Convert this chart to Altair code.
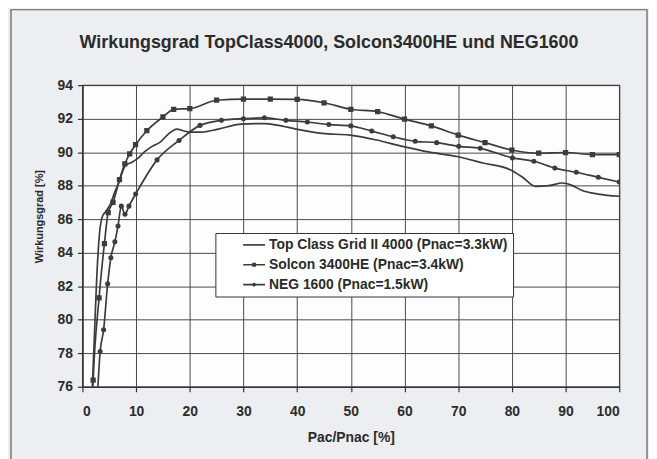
import altair as alt
import pandas as pd

FONT = "Liberation Sans"
TXT = "#2b2b2b"
LINE = "#3c3c3c"

S_TOP = "Top Class Grid II 4000 (Pnac=3.3kW)"
S_SOL = "Solcon 3400HE (Pnac=3.4kW)"
S_NEG = "NEG 1600 (Pnac=1.5kW)"
series_names = [S_TOP, S_SOL, S_NEG]

top_x = [1.85, 2.35, 2.6, 2.96, 3.3, 3.7, 4.3, 5.25, 6.0, 6.8, 8.0, 9.25, 10.2, 11.5, 12.9,
         14.5, 16.0, 17.6, 18.8, 20.0, 22.2, 25.3, 29.6, 33.9, 36.5, 39.8, 44.7, 49.8, 54.8,
         59.8, 64.7, 69.8, 74.8, 79.7, 82.0, 84.4, 86.9, 89.4, 91.2, 93.0, 96.1, 100.0]
top_y = [76.0, 80.0, 82.0, 84.2, 85.5, 86.15, 86.44, 86.94, 87.6, 88.2, 89.2, 89.4, 89.6, 90.0,
         90.33, 90.6, 91.08, 91.38, 91.28, 91.2, 91.2, 91.38, 91.67, 91.71, 91.6, 91.38, 91.12,
         91.02, 90.73, 90.33, 90.0, 89.74, 89.34, 88.95, 88.5, 87.96, 88.0, 88.16, 88.02, 87.73,
         87.5, 87.37]

sol_x = [1.9, 2.0, 3.1, 4.1, 4.8, 5.7, 6.9, 7.9, 8.8, 9.9, 12.0, 15.0, 17.0, 20.0, 25.0, 30.0,
         35.0, 40.0, 45.0, 50.0, 55.0, 60.0, 65.0, 70.0, 75.0, 80.0, 85.0, 90.0, 95.0, 100.0]
sol_y = [75.6, 76.4, 81.3, 84.55, 86.4, 87.0, 88.36, 89.3, 89.9, 90.45, 91.28, 92.1, 92.56,
         92.6, 93.1, 93.17, 93.17, 93.15, 92.95, 92.56, 92.42, 91.97, 91.57, 91.02, 90.57,
         90.13, 89.94, 89.98, 89.86, 89.86]

neg_x = [2.8, 3.3, 3.95, 4.7, 5.3, 6.05, 6.63, 7.25, 7.93, 8.67, 9.92, 13.9, 18.0, 21.9, 25.9,
         30.0, 33.9, 37.9, 41.9, 45.9, 50.0, 53.9, 57.9, 62.0, 66.0, 70.1, 74.1, 80.1, 84.1,
         88.0, 92.0, 96.1, 100.0]
neg_y = [75.5, 78.1, 79.4, 82.15, 83.7, 84.65, 85.6, 86.78, 86.3, 86.78, 87.5, 89.54, 90.7,
         91.6, 91.9, 92.0, 92.05, 91.9, 91.8, 91.65, 91.57, 91.26, 90.92, 90.65, 90.57, 90.35,
         90.23, 89.66, 89.46, 89.05, 88.8, 88.5, 88.22]

x_ticks = list(range(0, 101, 10))
y_ticks = list(range(76, 95, 2))

# legend symbols: a short line, with the series' marker on it
legend_shapes = [
    "M-2.2,0H2.2",
    "M-2.2,0H2.2M-0.22,-0.22H0.22V0.22H-0.22Z",
    "M-2.2,0H2.2M-0.2,0A0.2,0.2 0 1,1 0.2,0A0.2,0.2 0 1,1 -0.2,0Z",
]

lines_df = pd.concat([
    pd.DataFrame({"x": top_x, "y": top_y, "series": S_TOP}),
    pd.DataFrame({"x": sol_x, "y": sol_y, "series": S_SOL}),
    pd.DataFrame({"x": neg_x, "y": neg_y, "series": S_NEG}),
], ignore_index=True)
marks_df = lines_df[lines_df["series"] != S_TOP]

xs = alt.Scale(domain=[0, 100], nice=False, zero=False)
ys = alt.Scale(domain=[76, 94], nice=False, zero=False)

x_enc = alt.X("x:Q", scale=xs, title="Pac/Pnac [%]",
              axis=alt.Axis(values=x_ticks, tickSize=5, labelPadding=13, titlePadding=12,
                            labelFontSize=14, titleFontSize=14))
y_enc = alt.Y("y:Q", scale=ys, title="Wirkungsgrad [%]",
              axis=alt.Axis(values=y_ticks, tickSize=5, labelPadding=5, labelFontSize=14,
                            titleFontSize=11, titleX=-43, titleY=132, titleAlign="center",
                            titleBaseline="middle", titleAngle=270))

line_layer = alt.Chart(lines_df).mark_line(
    color=LINE, strokeWidth=1.7, interpolate="monotone", clip=True
).encode(x=x_enc, y=y_enc, detail="series:N")

point_layer = alt.Chart(marks_df).mark_point(
    filled=True, color=LINE, opacity=1, clip=True
).encode(
    x=x_enc, y=y_enc,
    shape=alt.Shape("series:N",
                    scale=alt.Scale(domain=[S_SOL, S_NEG], range=["square", "circle"]),
                    legend=None),
    size=alt.Size("series:N", scale=alt.Scale(domain=[S_SOL, S_NEG], range=[28, 26]),
                  legend=None),
)

legend_layer = alt.Chart(lines_df).mark_point(
    filled=False, color=LINE, strokeWidth=1.5, opacity=0, clip=True
).encode(
    x=x_enc, y=y_enc,
    shape=alt.Shape("series:N",
                    scale=alt.Scale(domain=series_names, range=legend_shapes),
                    legend=alt.Legend(
                        title=None, orient="none", legendX=134, legendY=149,
                        padding=5, symbolOffset=27, symbolSize=100,
                        labelFontSize=14, labelFontWeight="bold", labelFont=FONT,
                        labelColor=TXT, labelLimit=400, labelOffset=8, rowPadding=6,
                        fillColor="#ffffff", strokeColor="#333333",
                        symbolStrokeWidth=1.7, symbolFillColor=LINE,
                        symbolStrokeColor=LINE, symbolOpacity=1,
                    )),
)

frame_layer = alt.Chart(pd.DataFrame({"f": [0]})).mark_rect(
    fill=None, stroke="#5a5a5a", strokeWidth=1.2
).encode(x=alt.value(-72), x2=alt.value(569), y=alt.value(-76), y2=alt.value(420))

chart = alt.layer(frame_layer, line_layer, point_layer, legend_layer).resolve_scale(
    shape="independent", size="independent"
).properties(
    width=541, height=304,
    padding={"left": 75, "top": 76, "right": 30, "bottom": 71},
    autosize=alt.AutoSizeParams(type="none"),
    title=alt.TitleParams(
        "Wirkungsgrad TopClass4000, Solcon3400HE und NEG1600",
        fontSize=18, fontWeight="bold", font=FONT, color=TXT,
        anchor="middle", dx=-22, offset=-57, baseline="alphabetic",
    ),
).configure(
    background="#eceef1",
).configure_view(
    fill="#fdfdfd", stroke="#333333", strokeWidth=1.2,
).configure_axis(
    grid=True, gridColor="#4a4a4a", gridWidth=1, gridOpacity=1,
    domainColor="#333333", domainWidth=1.2, tickColor="#333333", tickWidth=1.2,
    labelFont=FONT, labelFontWeight="bold", labelColor=TXT,
    titleFont=FONT, titleFontWeight="bold", titleColor=TXT,
)

chart.save("out.html", embed_options={"renderer": "svg", "actions": False})
